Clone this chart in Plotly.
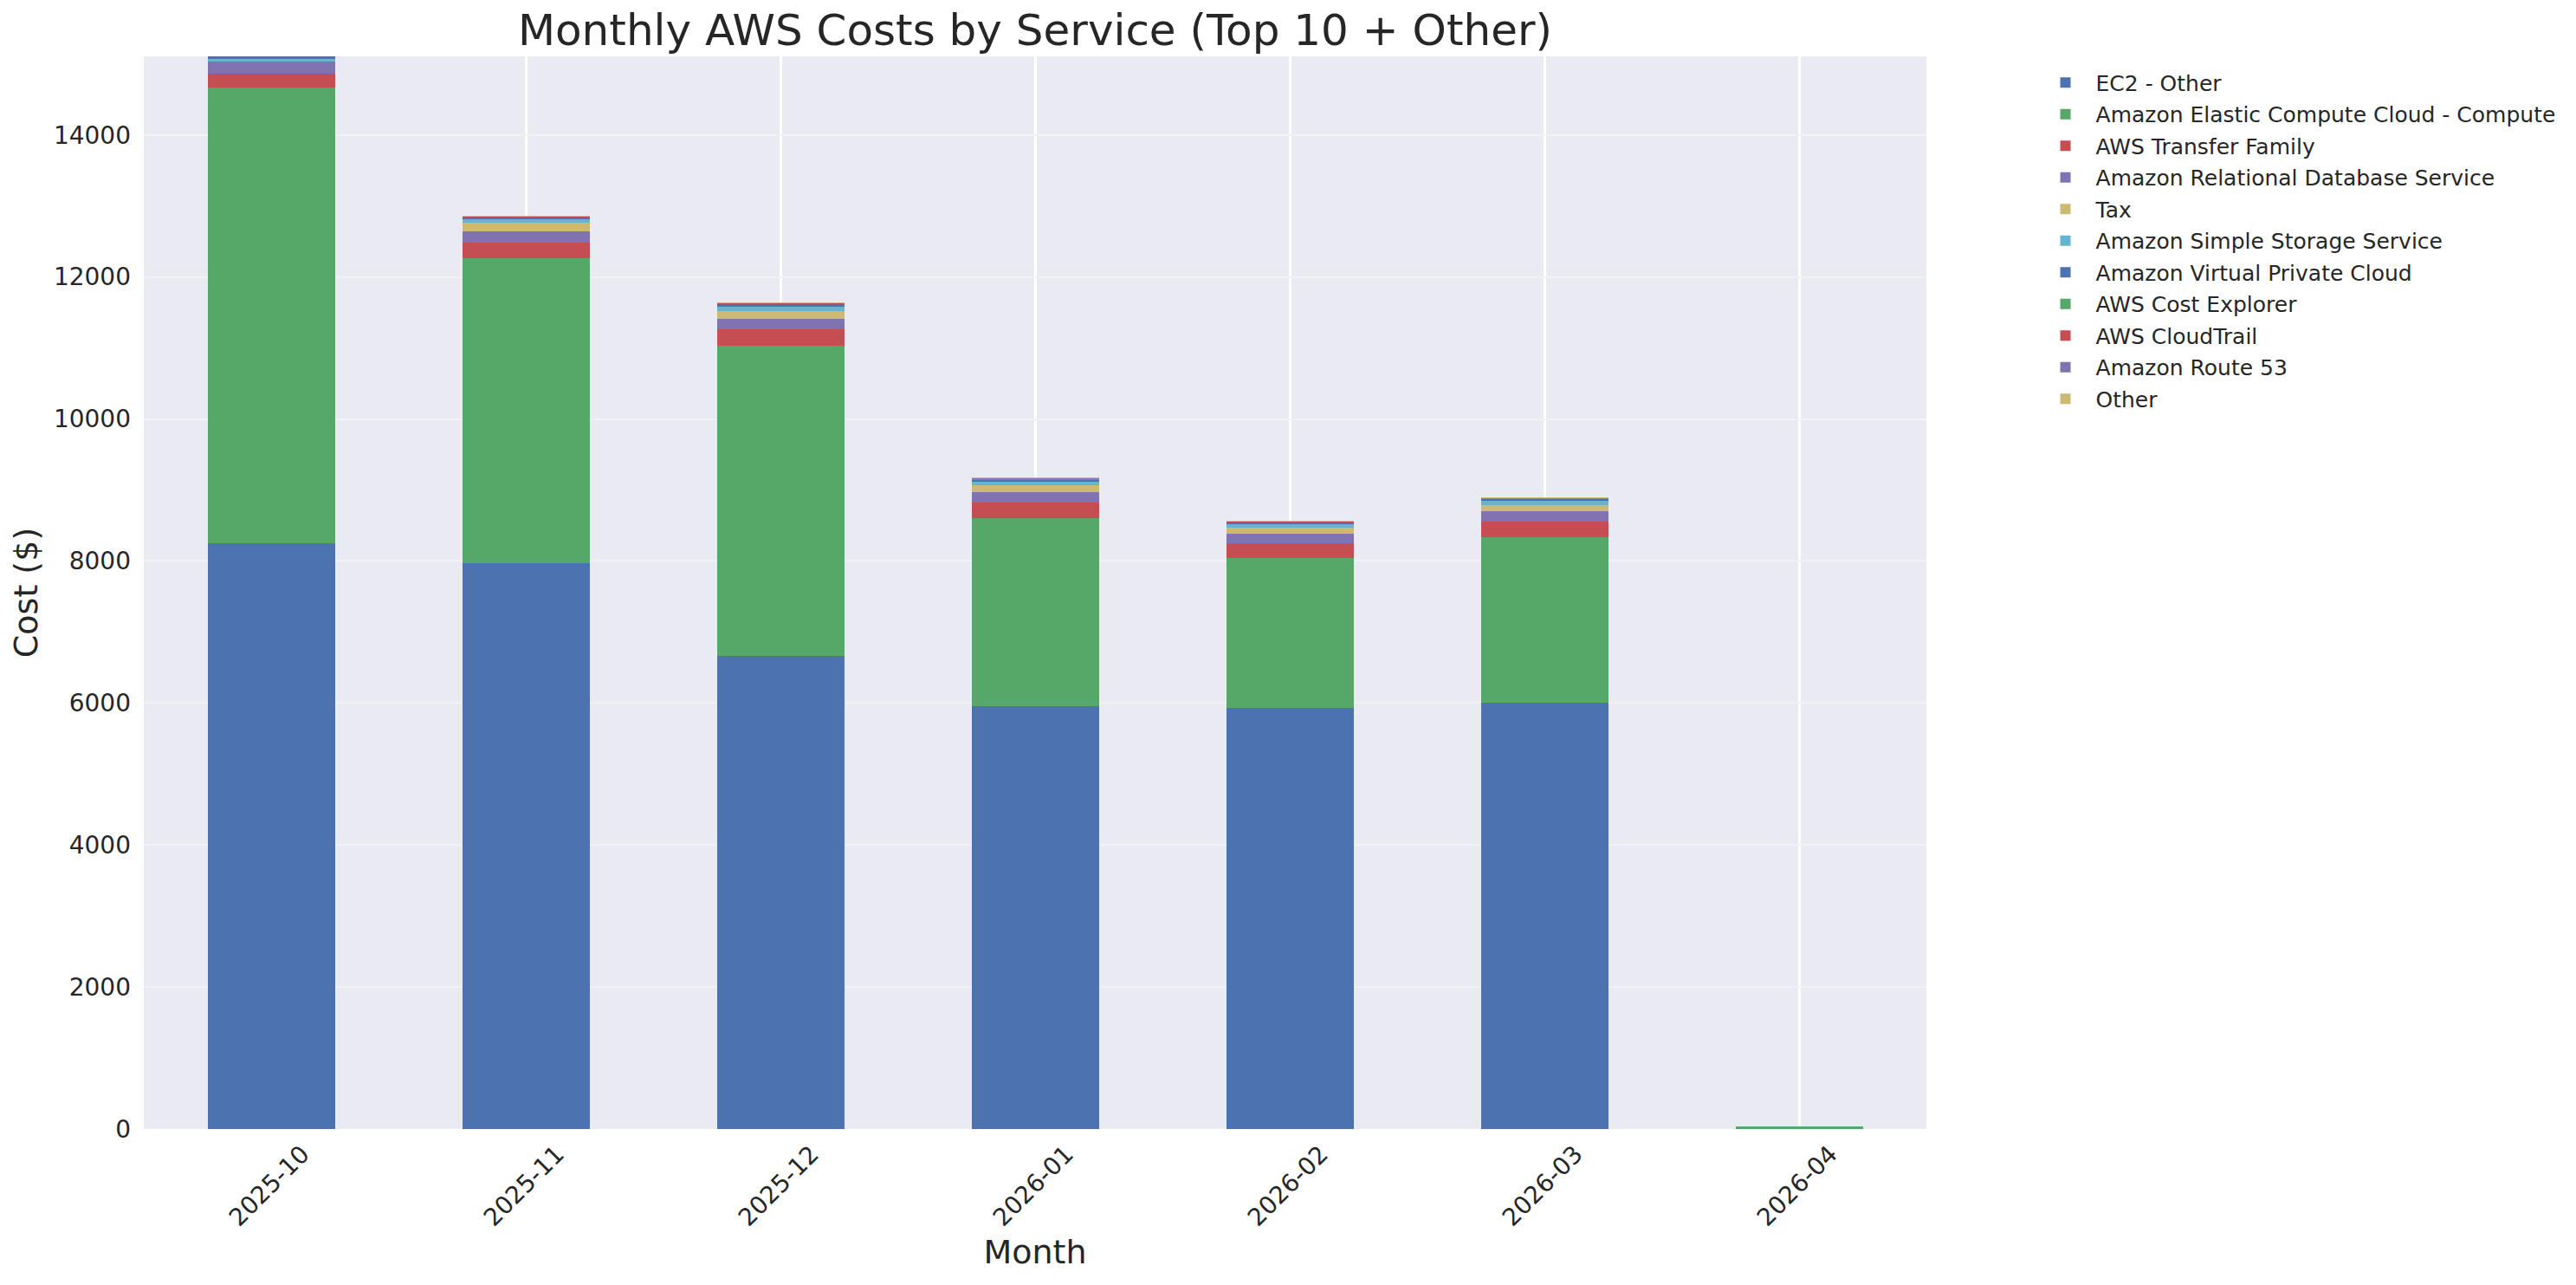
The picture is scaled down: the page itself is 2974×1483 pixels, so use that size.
import plotly.graph_objects as go

months = ["2025-10", "2025-11", "2025-12", "2026-01", "2026-02", "2026-03", "2026-04"]

ec2_other = [8247, 7966, 6661, 5953, 5928, 6001, 8]
ec2_compute = [6420, 4296, 4368, 2649, 2112, 2332, 24]
transfer_family = [195, 219, 232, 220, 207, 219, 0]
rds = [171, 159, 146, 146, 134, 147, 0]
tax = [0, 122, 110, 97, 86, 86, 0]
s3 = [37, 49, 61, 61, 61, 61, 0]
vpc = [37, 36, 49, 24, 24, 36, 0]
cost_explorer = [2, 2, 2, 2, 2, 2, 0]
cloudtrail = [2, 2, 2, 2, 2, 2, 0]
route53 = [1, 1, 1, 12, 1, 1, 0]
other = [3, 3, 3, 3, 3, 3, 0]

series_names = [
    "EC2 - Other",
    "Amazon Elastic Compute Cloud - Compute",
    "AWS Transfer Family",
    "Amazon Relational Database Service",
    "Tax",
    "Amazon Simple Storage Service",
    "Amazon Virtual Private Cloud",
    "AWS Cost Explorer",
    "AWS CloudTrail",
    "Amazon Route 53",
    "Other",
]
series_values = [ec2_other, ec2_compute, transfer_family, rds, tax, s3, vpc,
                 cost_explorer, cloudtrail, route53, other]
palette = ["#4C72B0", "#55A868", "#C44E52", "#8172B2", "#CCB974", "#64B5CD"]

y_ticks = [0, 2000, 4000, 6000, 8000, 10000, 12000, 14000]
y_max = 15107

TEXT = "#262626"
FONT = "DejaVu Sans"

fig = go.Figure()
for i, (name, vals) in enumerate(zip(series_names, series_values)):
    fig.add_trace(go.Bar(
        x=months, y=vals, name=name,
        marker=dict(color=palette[i % len(palette)], line=dict(width=0)),
        width=0.5,
        legendgroup=name,
    ))

fig.update_layout(
    width=2974, height=1483,
    barmode="stack",
    paper_bgcolor="white",
    plot_bgcolor="#EAEAF2",
    font=dict(family=FONT, color=TEXT, size=28),
    margin=dict(l=166, r=750, t=65, b=180, autoexpand=False),
    title=dict(text="Monthly AWS Costs by Service (Top 10 + Other)",
               font=dict(size=50, color=TEXT, family=FONT),
               x=(166 + 2224) / 2 / 2974, xanchor="center",
               y=1 - 34 / 1483, yanchor="middle"),
    showlegend=True,
    legend=dict(
        x=1.061, xanchor="left", y=0.994, yanchor="top",
        font=dict(size=25, color=TEXT, family=FONT),
        bgcolor="rgba(0,0,0,0)",
        traceorder="grouped",
        tracegroupgap=1,
        itemwidth=60,
    ),
    xaxis=dict(
        type="category",
        range=[-0.5, 6.5],
        tickangle=-45,
        ticklabelshift=36,
        ticklabelstandoff=6,
        showgrid=True, gridcolor="white", gridwidth=2.5,
        showline=False, zeroline=False, ticks="",
        tickfont=dict(size=28, color=TEXT, family=FONT),
        title=dict(text="Month", font=dict(size=38, color=TEXT, family=FONT), standoff=10),
    ),
    yaxis=dict(
        range=[0, y_max],
        tickmode="array", tickvals=y_ticks, ticktext=[str(v) for v in y_ticks],
        ticklabelstandoff=14,
        showgrid=True, gridcolor="#F1F1F6", gridwidth=2,
        showline=False, zeroline=False, ticks="",
        tickfont=dict(size=28, color=TEXT, family=FONT),
        title=dict(text="Cost ($)", font=dict(size=38, color=TEXT, family=FONT), standoff=6),
    ),
    bargap=0.5,
)

fig.write_html("out.html", config={"displayModeBar": False},
               post_script="document.body.style.margin='0px';")
